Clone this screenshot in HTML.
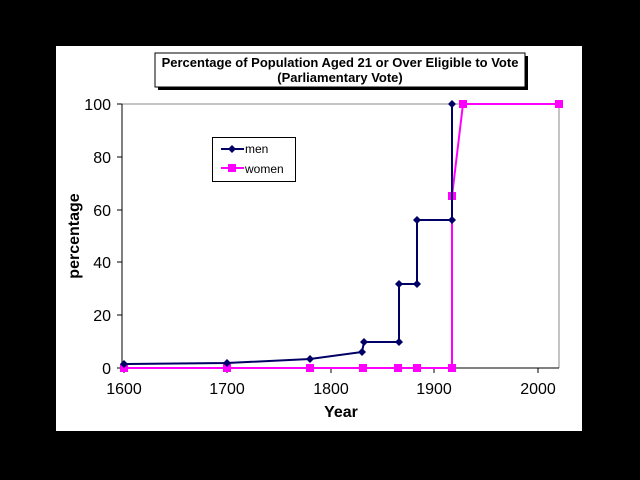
<!DOCTYPE html>
<html><head><style>
body{margin:0;background:#000;width:640px;height:480px;overflow:hidden}
</style></head><body>
<svg width="640" height="480" xmlns="http://www.w3.org/2000/svg" style="position:absolute;left:0;top:0;font-family:'Liberation Sans',Arial,sans-serif">
<rect x="0" y="0" width="640" height="480" fill="#000"/>
<rect x="56" y="46" width="526" height="385" fill="#fff"/>
<rect x="158" y="56" width="370" height="34" fill="#000"/>
<rect x="155" y="53" width="370" height="34" fill="#fff" stroke="#000" stroke-width="1"/>
<text x="340" y="67" font-size="13" font-weight="bold" text-anchor="middle">Percentage of Population Aged 21 or Over Eligible to Vote</text>
<text x="340" y="82" font-size="13" font-weight="bold" text-anchor="middle">(Parliamentary Vote)</text>
<line x1="122" y1="104" x2="559" y2="104" stroke="#888" stroke-width="1"/>
<line x1="559" y1="104" x2="559" y2="368" stroke="#888" stroke-width="1"/>
<line x1="122" y1="104" x2="122" y2="368" stroke="#000" stroke-width="1"/>
<line x1="122" y1="368" x2="559" y2="368" stroke="#000" stroke-width="1"/>
<g stroke="#000" stroke-width="1">
<line x1="117" y1="104" x2="122" y2="104"/><line x1="117" y1="157" x2="122" y2="157"/>
<line x1="117" y1="210" x2="122" y2="210"/><line x1="117" y1="262" x2="122" y2="262"/>
<line x1="117" y1="315" x2="122" y2="315"/><line x1="117" y1="368" x2="122" y2="368"/>
<line x1="124" y1="368" x2="124" y2="373"/><line x1="227" y1="368" x2="227" y2="373"/>
<line x1="331" y1="368" x2="331" y2="373"/><line x1="434" y1="368" x2="434" y2="373"/>
<line x1="538" y1="368" x2="538" y2="373"/>
</g>
<g font-size="16" text-anchor="end">
<text x="111" y="110">100</text><text x="111" y="163">80</text><text x="111" y="216">60</text>
<text x="111" y="268">40</text><text x="111" y="321">20</text><text x="111" y="374">0</text>
</g>
<g font-size="16" text-anchor="middle">
<text x="124" y="394">1600</text><text x="227" y="394">1700</text><text x="331" y="394">1800</text>
<text x="434" y="394">1900</text><text x="538" y="394">2000</text>
</g>
<text x="341" y="417" font-size="16" font-weight="bold" text-anchor="middle">Year</text>
<text transform="translate(79,236) rotate(-90)" font-size="16" font-weight="bold" text-anchor="middle">percentage</text>
<polyline fill="none" stroke="#ff00ff" stroke-width="2" points="124,368 227,368 310,368 362,368 398,368 417,368 452,368 452,196 463,104 559,104"/>
<g fill="#ff00ff">
<rect x="120" y="364" width="8" height="8"/><rect x="223" y="364" width="8" height="8"/>
<rect x="306" y="364" width="8" height="8"/><rect x="359" y="364" width="8" height="8"/>
<rect x="394" y="364" width="8" height="8"/><rect x="413" y="364" width="8" height="8"/>
<rect x="448" y="364" width="8" height="8"/><rect x="448" y="192" width="8" height="8"/>
<rect x="459" y="100" width="8" height="8"/><rect x="555" y="100" width="8" height="8"/>
</g>
<polyline fill="none" stroke="#000066" stroke-width="2" points="124,364 227,363 310,359 362,352 364,342 399,342 399,284 417,284 417,220 452,220 452,104"/>
<g fill="#000066">
<path d="M124,360l4,4l-4,4l-4,-4z"/><path d="M227,359l4,4l-4,4l-4,-4z"/>
<path d="M310,355l4,4l-4,4l-4,-4z"/><path d="M362,348l4,4l-4,4l-4,-4z"/>
<path d="M364,338l4,4l-4,4l-4,-4z"/><path d="M399,338l4,4l-4,4l-4,-4z"/>
<path d="M399,280l4,4l-4,4l-4,-4z"/><path d="M417,280l4,4l-4,4l-4,-4z"/>
<path d="M417,216l4,4l-4,4l-4,-4z"/><path d="M452,216l4,4l-4,4l-4,-4z"/>
<path d="M452,100l4,4l-4,4l-4,-4z"/>
</g>
<rect x="212.5" y="137.5" width="83" height="44" fill="#fff" stroke="#000" stroke-width="1"/>
<line x1="221" y1="149" x2="244" y2="149" stroke="#000066" stroke-width="2"/>
<path d="M232,145l4,4l-4,4l-4,-4z" fill="#000066"/>
<text x="245" y="153" font-size="12">men</text>
<line x1="221" y1="168" x2="244" y2="168" stroke="#ff00ff" stroke-width="2"/>
<rect x="228" y="164" width="8" height="8" fill="#ff00ff"/>
<text x="245" y="173" font-size="12">women</text>
</svg>
</body></html>
